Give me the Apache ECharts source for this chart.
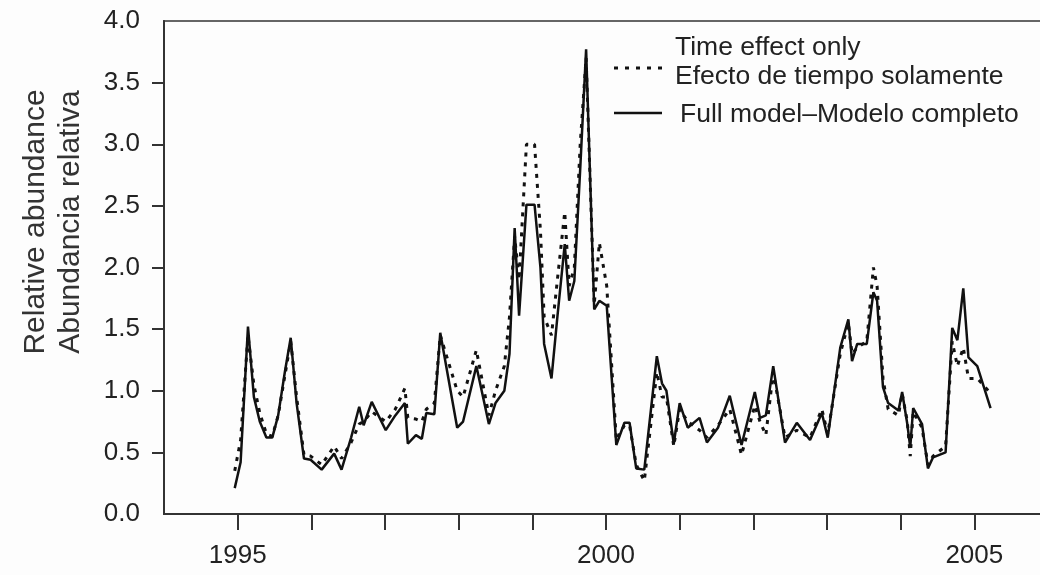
<!DOCTYPE html>
<html style="height: 100%">

<head>
    <meta charset="utf-8">
</head>

<body style="height: 100%; margin: 0; background: #fdfdfd">
    <div id="container" style="width: 1040px; height: 575px"></div>

    <script src="https://cdn.jsdelivr.net/npm/echarts@6/dist/echarts.min.js"></script>

    <script type="text/javascript">
        // time points (decimal years)
        var years = [
            1994.96, 1995.04, 1995.14, 1995.22, 1995.30, 1995.39, 1995.47, 1995.55, 1995.64, 1995.72,
            1995.80, 1995.90, 1995.99, 1996.14, 1996.31, 1996.41, 1996.54, 1996.65, 1996.71, 1996.82,
            1997.01, 1997.14, 1997.27, 1997.31, 1997.42, 1997.50, 1997.56, 1997.67, 1997.75, 1997.98,
            1998.06, 1998.24, 1998.41, 1998.50, 1998.62, 1998.69, 1998.76, 1998.82, 1998.92, 1999.03,
            1999.11, 1999.16, 1999.26, 1999.34, 1999.44, 1999.50, 1999.57, 1999.65, 1999.73, 1999.84,
            1999.91, 2000.01, 2000.14, 2000.25, 2000.32, 2000.41, 2000.52, 2000.69, 2000.76, 2000.82,
            2000.92, 2001.00, 2001.11, 2001.27, 2001.37, 2001.52, 2001.68, 2001.84, 2002.02, 2002.09,
            2002.17, 2002.27, 2002.43, 2002.59, 2002.77, 2002.93, 2003.01, 2003.18, 2003.29, 2003.34,
            2003.41, 2003.54, 2003.63, 2003.68, 2003.76, 2003.83, 2003.97, 2004.02, 2004.09, 2004.13,
            2004.17, 2004.29, 2004.37, 2004.44, 2004.61, 2004.70, 2004.77, 2004.85, 2004.92, 2005.04,
            2005.22
        ];

        // Full model - Modelo completo
        var fullModel = [
            0.21, 0.42, 1.52, 0.95, 0.75, 0.62, 0.62, 0.80, 1.15, 1.43,
            0.90, 0.45, 0.44, 0.36, 0.49, 0.36, 0.62, 0.87, 0.72, 0.91,
            0.68, 0.80, 0.90, 0.57, 0.64, 0.61, 0.82, 0.81, 1.47, 0.70,
            0.75, 1.20, 0.73, 0.90, 1.00, 1.30, 2.32, 1.61, 2.51, 2.51,
            2.00, 1.38, 1.10, 1.60, 2.19, 1.73, 1.89, 2.80, 3.77, 1.66,
            1.73, 1.69, 0.56, 0.74, 0.74, 0.37, 0.36, 1.28, 1.06, 1.00,
            0.57, 0.90, 0.70, 0.78, 0.58, 0.70, 0.96, 0.56, 0.99, 0.78,
            0.80, 1.20, 0.58, 0.74, 0.60, 0.82, 0.62, 1.35, 1.58, 1.24,
            1.38, 1.38, 1.80, 1.73, 1.03, 0.90, 0.84, 0.99, 0.73, 0.54,
            0.86, 0.73, 0.37, 0.46, 0.50, 1.51, 1.41, 1.83, 1.27, 1.20,
            0.86
        ];

        // Time effect only - Efecto de tiempo solamente
        var timeOnly = [
            0.35, 0.60, 1.45, 1.05, 0.82, 0.65, 0.63, 0.80, 1.12, 1.40,
            0.95, 0.48, 0.47, 0.40, 0.55, 0.45, 0.58, 0.73, 0.75, 0.83,
            0.75, 0.85, 1.02, 0.78, 0.77, 0.75, 0.85, 0.90, 1.45, 1.00,
            0.95, 1.33, 0.80, 1.00, 1.20, 1.60, 2.25, 1.90, 3.00, 3.00,
            2.30, 1.60, 1.45, 1.90, 2.45, 1.85, 2.00, 3.00, 3.70, 1.70,
            2.20, 1.85, 0.60, 0.72, 0.72, 0.40, 0.27, 1.15, 0.95, 0.95,
            0.55, 0.85, 0.75, 0.68, 0.62, 0.72, 0.85, 0.48, 0.88, 0.75,
            0.64, 1.15, 0.62, 0.68, 0.62, 0.85, 0.65, 1.30, 1.55, 1.30,
            1.35, 1.40, 2.00, 1.85, 1.10, 0.85, 0.80, 0.98, 0.75, 0.47,
            0.83, 0.70, 0.40, 0.47, 0.55, 1.40, 1.20, 1.35, 1.10, 1.10,
            0.98
        ];

        var xTickYears = [1995, 1996, 1997, 1998, 1999, 2000, 2001, 2002, 2003, 2004, 2005];
        var xLabelYears = [1995, 2000, 2005];
        var yTickValues = [0.5, 1.0, 1.5, 2.0, 2.5, 3.0, 3.5];
        var yLabelValues = [0, 0.5, 1.0, 1.5, 2.0, 2.5, 3.0, 3.5, 4.0];

        function pairs(vals) {
            return years.map(function (y, i) {
                return [y, vals[i]];
            });
        }

        var myChart = echarts.init(document.getElementById('container'));

        var font = 'Liberation Sans, Arial, sans-serif';
        var textColor = '#222';
        var legendFont = '26.5px Liberation Sans, Arial, sans-serif';
        var titleFont = '30px Liberation Sans, Arial, sans-serif';

        var option = {
            animation: false,
            backgroundColor: '#fdfdfd',
            grid: {
                left: 164,
                top: 21,
                right: -8,
                bottom: 61,
                show: true,
                borderColor: '#666',
                borderWidth: 2,
                containLabel: false,
                outerBoundsMode: 'none'
            },
            xAxis: {
                type: 'value',
                min: 1994,
                max: 2006,
                interval: 1,
                splitLine: { show: false },
                axisLine: { show: true, lineStyle: { color: '#333', width: 2 } },
                axisTick: {
                    show: true,
                    length: 16,
                    customValues: xTickYears,
                    lineStyle: { color: '#333', width: 2 }
                },
                axisLabel: {
                    customValues: xLabelYears,
                    margin: 29,
                    color: textColor,
                    fontSize: 26,
                    fontFamily: font,
                    formatter: function (v) {
                        return String(v);
                    }
                }
            },
            yAxis: {
                type: 'value',
                min: 0,
                max: 4,
                interval: 0.5,
                splitLine: { show: false },
                axisLine: { show: true, lineStyle: { color: '#333', width: 2 } },
                axisTick: {
                    show: true,
                    length: 12,
                    customValues: yTickValues,
                    lineStyle: { color: '#333', width: 2 }
                },
                axisLabel: {
                    customValues: yLabelValues,
                    margin: 24,
                    color: textColor,
                    fontSize: 26,
                    fontFamily: font,
                    formatter: function (v) {
                        return v.toFixed(1);
                    }
                }
            },
            graphic: [
                // y axis title, two lines
                {
                    type: 'text',
                    x: 36,
                    y: 222,
                    rotation: Math.PI / 2,
                    style: {
                        text: 'Relative abundance',
                        fill: '#333',
                        font: titleFont,
                        textAlign: 'center',
                        textVerticalAlign: 'middle'
                    }
                },
                {
                    type: 'text',
                    x: 71,
                    y: 222,
                    rotation: Math.PI / 2,
                    style: {
                        text: 'Abundancia relativa',
                        fill: '#333',
                        font: titleFont,
                        textAlign: 'center',
                        textVerticalAlign: 'middle'
                    }
                },
                // legend
                {
                    type: 'line',
                    shape: { x1: 614, y1: 68, x2: 662, y2: 68 },
                    style: { stroke: '#111', lineWidth: 3, lineDash: [4, 7] }
                },
                {
                    type: 'text',
                    x: 675,
                    y: 48,
                    style: {
                        text: 'Time effect only',
                        fill: textColor,
                        font: legendFont,
                        textVerticalAlign: 'middle'
                    }
                },
                {
                    type: 'text',
                    x: 675,
                    y: 77,
                    style: {
                        text: 'Efecto de tiempo solamente',
                        fill: textColor,
                        font: legendFont,
                        textVerticalAlign: 'middle'
                    }
                },
                {
                    type: 'line',
                    shape: { x1: 614, y1: 113, x2: 662, y2: 113 },
                    style: { stroke: '#111', lineWidth: 2.5 }
                },
                {
                    type: 'text',
                    x: 680,
                    y: 115,
                    style: {
                        text: 'Full model\u2013Modelo completo',
                        fill: textColor,
                        font: legendFont,
                        textVerticalAlign: 'middle'
                    }
                }
            ],
            series: [
                {
                    name: 'Full model–Modelo completo',
                    type: 'line',
                    data: pairs(fullModel),
                    showSymbol: false,
                    symbol: 'none',
                    lineStyle: { color: '#111', width: 2.5 }
                },
                {
                    name: 'Time effect only',
                    type: 'line',
                    data: pairs(timeOnly),
                    showSymbol: false,
                    symbol: 'none',
                    lineStyle: { color: '#111', width: 3, type: [4, 6] }
                }
            ]
        };

        myChart.setOption(option);
    </script>
</body>

</html>
